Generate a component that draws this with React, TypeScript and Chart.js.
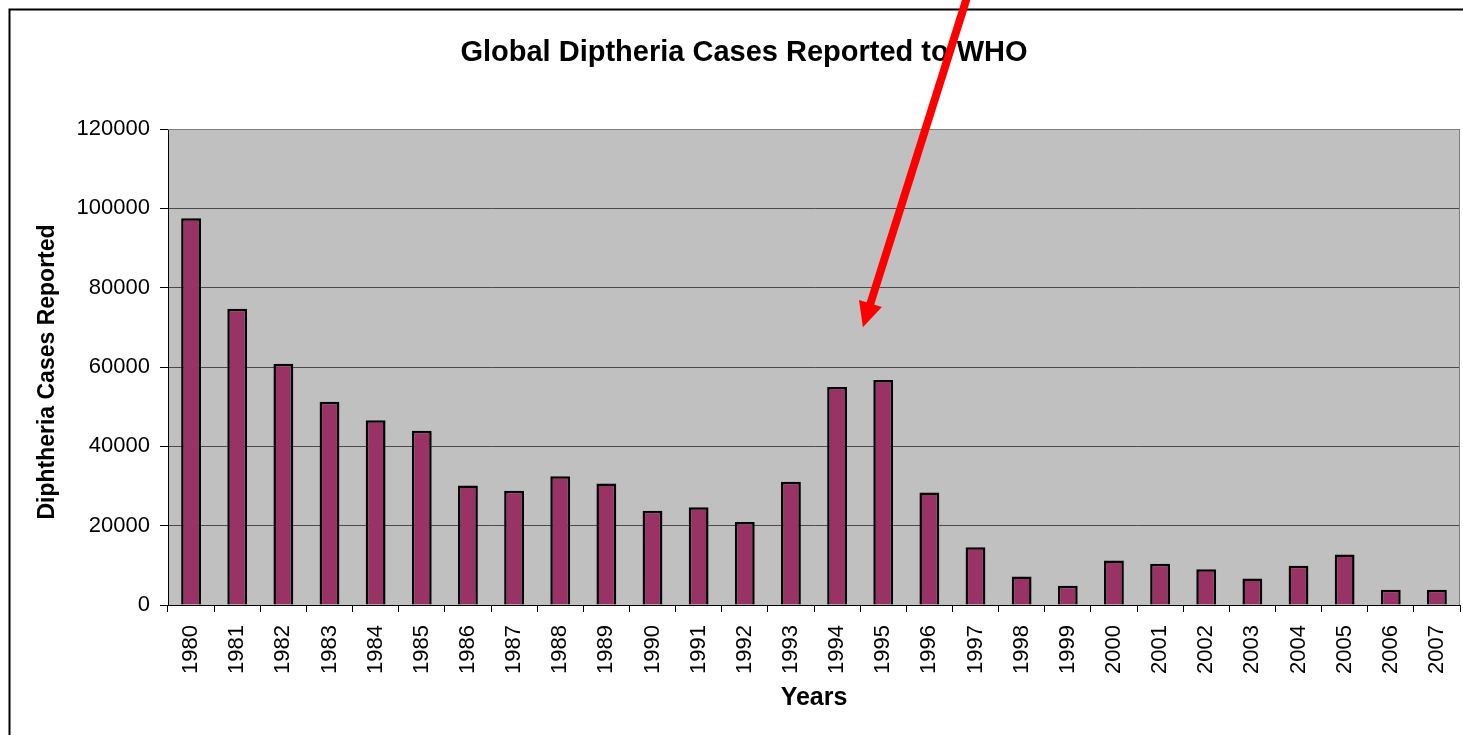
import { useEffect, useRef } from 'react';
import { Chart, registerables } from 'chart.js';

Chart.register(...registerables);

const years = ['1980', '1981', '1982', '1983', '1984', '1985', '1986', '1987', '1988', '1989', '1990', '1991', '1992', '1993', '1994', '1995', '1996', '1997', '1998', '1999', '2000', '2001', '2002', '2003', '2004', '2005', '2006', '2007'];
const cases = [97500, 74700, 60850, 51250, 46600, 43900, 30100, 28800, 32450, 30600, 23750, 24650, 20950, 31050, 54950, 56700, 28350, 14550, 7200, 4850, 11250, 10400, 9000, 6700, 9900, 12700, 3850, 3850];
const yMin = 0;
const yMax = 120000;
const yStep = 20000;

const chartTitle = 'Global Diptheria Cases Reported to WHO';
const yAxisTitle = 'Diphtheria Cases Reported';
const xAxisTitle = 'Years';

// annotation arrow in data coordinates (category index, value)
const arrowTail = { x: 17, y: 160000 };
const arrowTip = { x: 14.56, y: 70000 };

const FONT = '"Liberation Sans", Arial, sans-serif';

const decorPlugin = {
  id: 'decor',
  beforeDraw(chart: any) {
    const { ctx, chartArea: a, width, height } = chart;
    ctx.save();
    ctx.fillStyle = '#ffffff';
    ctx.fillRect(0, 0, width, height);
    ctx.fillStyle = '#C0C0C0';
    ctx.fillRect(a.left, a.top, a.right - a.left, a.bottom - a.top);
    ctx.restore();
  },
  afterDraw(chart: any) {
    const { ctx, chartArea: a, width, height } = chart;
    const xs = chart.scales.x;
    const ys = chart.scales.y;
    ctx.save();
    // plot border top/right
    ctx.strokeStyle = '#808080';
    ctx.lineWidth = 1;
    ctx.beginPath();
    ctx.moveTo(a.left, a.top + 0.5);
    ctx.lineTo(a.right - 0.5, a.top + 0.5);
    ctx.lineTo(a.right - 0.5, a.bottom);
    ctx.stroke();

    // outer frame
    ctx.strokeStyle = '#000000';
    ctx.lineWidth = 2;
    ctx.beginPath();
    ctx.moveTo(9.5, height + 5);
    ctx.lineTo(9.5, 9.5);
    ctx.lineTo(width + 5, 9.5);
    ctx.stroke();

    // titles
    ctx.fillStyle = '#000000';
    ctx.textAlign = 'center';
    ctx.textBaseline = 'middle';
    ctx.font = `bold 29px ${FONT}`;
    ctx.fillText(chartTitle, 744, 53);
    ctx.font = `bold 25px ${FONT}`;
    ctx.fillText(xAxisTitle, (a.left + a.right) / 2, 698);
    ctx.save();
    ctx.translate(48, (a.top + a.bottom) / 2 + 5);
    ctx.rotate(-Math.PI / 2);
    ctx.font = `bold 23px ${FONT}`;
    ctx.fillText(yAxisTitle, 0, 0);
    ctx.restore();

    // arrow
    const x1 = xs.getPixelForValue(arrowTail.x);
    const y1 = ys.getPixelForValue(arrowTail.y);
    const x2 = xs.getPixelForValue(arrowTip.x);
    const y2 = ys.getPixelForValue(arrowTip.y);
    const ang = Math.atan2(y2 - y1, x2 - x1);
    const headLen = 25;
    const headHalf = 12;
    const bx = x2 - headLen * Math.cos(ang);
    const by = y2 - headLen * Math.sin(ang);
    ctx.strokeStyle = '#FF0000';
    ctx.fillStyle = '#FF0000';
    ctx.lineWidth = 8;
    ctx.lineCap = 'butt';
    ctx.beginPath();
    ctx.moveTo(x1, y1);
    ctx.lineTo(bx + 2 * Math.cos(ang), by + 2 * Math.sin(ang));
    ctx.stroke();
    ctx.beginPath();
    ctx.moveTo(x2, y2);
    ctx.lineTo(bx + headHalf * Math.sin(ang), by - headHalf * Math.cos(ang));
    ctx.lineTo(bx - headHalf * Math.sin(ang), by + headHalf * Math.cos(ang));
    ctx.closePath();
    ctx.fill();
    ctx.restore();
  },
};

export default function App() {
  const canvasRef = useRef<HTMLCanvasElement | null>(null);

  useEffect(() => {
    const canvas = canvasRef.current;
    if (!canvas) return;
    const chart = new Chart(canvas, {
      type: 'bar',
      data: {
        labels: years,
        datasets: [
          {
            data: cases,
            backgroundColor: '#993366',
            borderColor: '#000000',
            borderWidth: 2.5,
            borderSkipped: 'bottom',
            barPercentage: 0.43,
            categoryPercentage: 1,
          },
        ],
      },
      options: {
        responsive: false,
        animation: false,
        events: [],
        layout: { padding: { left: 0, top: 129, right: 3, bottom: 0 } },
        plugins: {
          legend: { display: false },
          title: { display: false },
          tooltip: { enabled: false },
        },
        scales: {
          x: {
            offset: true,
            grid: {
              offset: true,
              drawOnChartArea: false,
              drawTicks: true,
              tickLength: 7,
              tickColor: '#000000',
              lineWidth: 1,
            },
            border: { display: true, color: '#000000', width: 1 },
            ticks: {
              color: '#000000',
              font: { family: FONT, size: 22 },
              minRotation: 90,
              maxRotation: 90,
              autoSkip: false,
              padding: 13,
            },
            afterFit(scale: any) {
              scale.height = 130;
              scale.paddingLeft = 0;
              scale.paddingRight = 0;
            },
          },
          y: {
            min: yMin,
            max: yMax,
            grid: {
              color: '#4a4a4a',
              lineWidth: 1,
              drawTicks: true,
              tickLength: 8,
              tickColor: '#000000',
            },
            border: { display: true, color: '#000000', width: 1 },
            ticks: {
              stepSize: yStep,
              color: '#000000',
              font: { family: FONT, size: 22 },
              padding: 10,
              callback: (v: any) => String(v),
            },
            afterFit(scale: any) {
              scale.width = 168;
              scale.paddingTop = 0;
              scale.paddingBottom = 0;
            },
          },
        },
      },
      plugins: [decorPlugin],
    });
    return () => chart.destroy();
  }, []);

  return (
    <div style={{ position: 'fixed', left: 0, top: 0, width: 1463, height: 735, background: '#fff' }}>
      <canvas ref={canvasRef} width={1463} height={735} style={{ display: 'block', width: 1463, height: 735 }} />
    </div>
  );
}
